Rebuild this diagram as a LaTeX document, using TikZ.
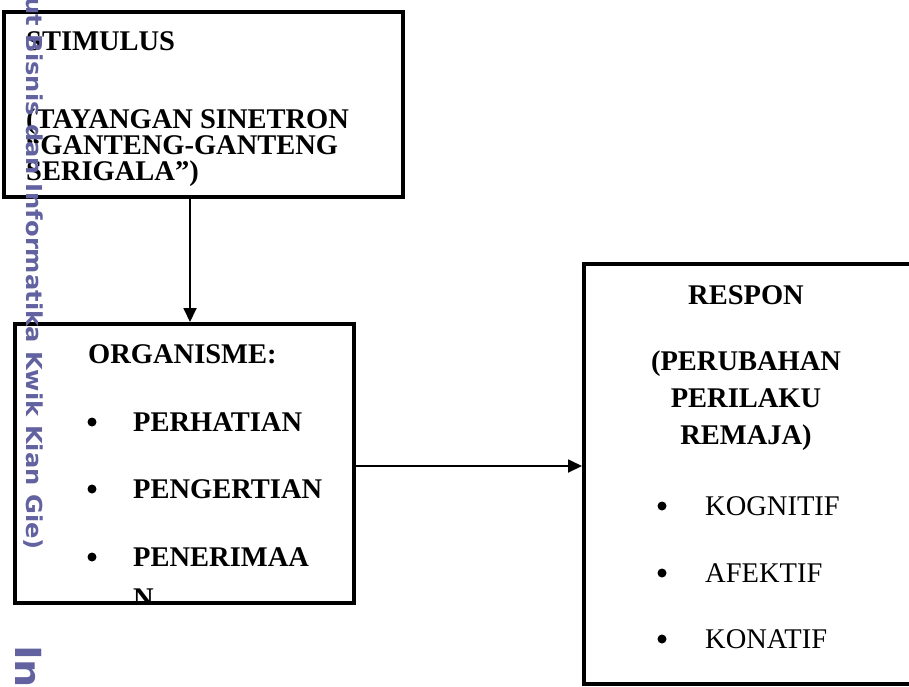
\documentclass[tikz,border=0pt]{standalone}
\usepackage{fontspec}
\setmainfont{Liberation Serif}
\newfontfamily\wmfont{DejaVu Sans}[FakeStretch=1.1]
\usetikzlibrary{arrows.meta}
\definecolor{wmcolor}{HTML}{6262A0}

\tikzstyle{box}=[draw,line width=4pt,rectangle,inner sep=0pt]
\tikzstyle{line}=[draw,line width=1.8pt,-{Triangle[length=14pt,width=13pt]}]
\tikzstyle{txt}=[anchor=base west,inner sep=0pt,font=\fontsize{28.5}{30}\selectfont]
\tikzstyle{bold}=[txt,font=\fontsize{28.5}{30}\selectfont\bfseries]
\tikzstyle{dot}=[circle,fill,inner sep=0pt,minimum size=9pt]
\tikzstyle{wmark}=[text=wmcolor,inner sep=0pt,rotate=-90,font=\wmfont\bfseries\fontsize{22}{22}\selectfont]

\begin{document}
\begin{tikzpicture}[x=1pt,y=-1pt]
    \useasboundingbox (0,0) rectangle (909,686);
    % First we draw the boxes
    \node[box,minimum width=399pt,minimum height=185pt] (stimulus) at (203.5,104.5) {};
    \node[box,minimum width=339pt,minimum height=279pt] (organisme) at (184.5,463.5) {};
    \node[box,minimum width=340pt,minimum height=420pt] (respon) at (754,474) {};
    % Texts of the stimulus box
    \foreach \y/\txt [count=\i] in {50/STIMULUS,128/{(TAYANGAN SINETRON},154/{``GANTENG-GANTENG},180/{SERIGALA'')}}
        \node[bold] (st\i) at (26,\y) {\txt};
    % Texts of the organisme box
    \node[bold] (orgtitle) at (88,363) {ORGANISME:};
    \foreach \y/\txt [count=\i] in {431/PERHATIAN,498/PENGERTIAN,566/PENERIMAA} {
        \node[dot] (ob\i) at (92,{\y-9}) {};
        \node[bold] (ot\i) at (133,\y) {\txt};
    }
    \begin{scope}
        \clip (organisme.north west) rectangle ([yshift=4pt]organisme.south east);
        \node[bold] (otn) at (133,607) {N};
    \end{scope}
    % Texts of the respon box
    \foreach \y/\txt [count=\i] in {304/RESPON,370/(PERUBAHAN,407/PERILAKU,444/REMAJA)}
        \node[bold,anchor=base] (rt\i) at (746,\y) {\txt};
    \foreach \y/\txt [count=\i] in {515/KOGNITIF,582/AFEKTIF,648/KONATIF} {
        \node[dot] (rb\i) at (662,{\y-9}) {};
        \node[txt] (ri\i) at (705,\y) {\txt};
    }
    % Connect boxes with arrows
    \coordinate (downx) at ([xshift=5.5pt]organisme.north);
    \coordinate (rightin) at ([yshift=-2.5pt]organisme.east);
    \path[line] (downx |- stimulus.south) -- (downx);
    \path[line] (rightin) -- (rightin -| respon.west);
    % Watermark on the left side
    \node[wmark,anchor=base east] (wm) at (27,550) {(Institut Bisnis dan Informatika Kwik Kian Gie)};
    \node[wmark,anchor=base west,font=\wmfont\bfseries\fontsize{36}{36}\selectfont] (ins) at (15,645) {Ins};
\end{tikzpicture}
\end{document}
